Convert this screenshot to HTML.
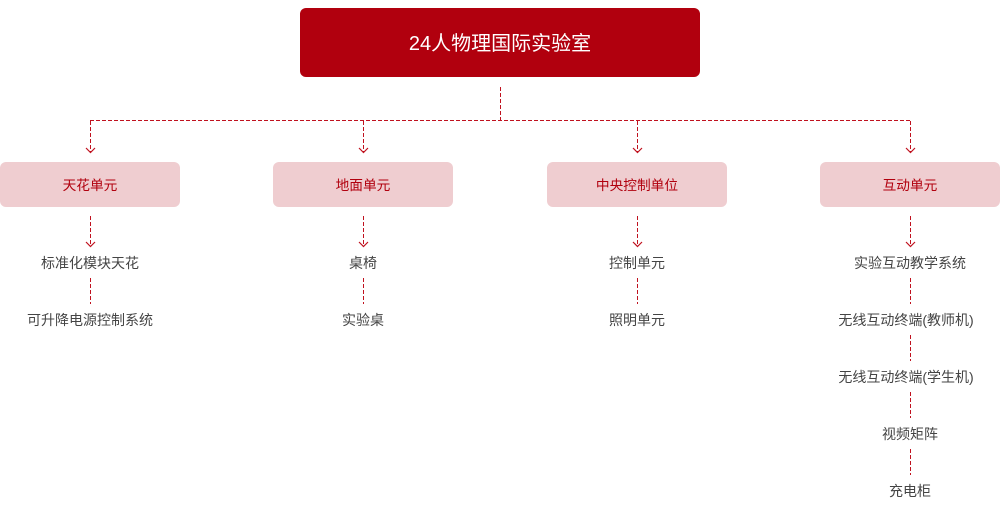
<!DOCTYPE html>
<html><head><meta charset="utf-8"><style>body{margin:0;background:#fff}svg{display:block}text{font-family:"Liberation Sans","Noto Sans CJK SC",sans-serif}</style></head><body>
<svg width="1000" height="510" viewBox="0 0 1000 510">
<rect x="300" y="8" width="400" height="69" rx="6" fill="#b1000e"/>
<text x="500" y="50" font-size="20" fill="#fff" text-anchor="middle">24人物理国际实验室</text>
<g stroke="#c0121f" stroke-width="1" stroke-dasharray="4,2" fill="none">
<path d="M500.5 87V120.5M90 120.5H910.5"/>
<path d="M90.5 121V152M363.5 121V152M637.5 121V152M910.5 121V152"/>
<path d="M90.5 216V246M363.5 216V246M637.5 216V246M910.5 216V246"/>
<path d="M90.5 278V304M363.5 278V304M637.5 278V304M910.5 278V304M910.5 335V361M910.5 392V418M910.5 449V475"/>
</g>
<g stroke="#c0121f" stroke-width="1.2" fill="none">
<path d="M86 148l4.5 4.5 4.5-4.5M359 148l4.5 4.5 4.5-4.5M633 148l4.5 4.5 4.5-4.5M906 148l4.5 4.5 4.5-4.5"/>
<path d="M86 242l4.5 4.5 4.5-4.5M359 242l4.5 4.5 4.5-4.5M633 242l4.5 4.5 4.5-4.5M906 242l4.5 4.5 4.5-4.5"/>
</g>
<g fill="#efcdd0">
<rect x="0" y="162" width="180" height="45" rx="6"/>
<rect x="273" y="162" width="180" height="45" rx="6"/>
<rect x="547" y="162" width="180" height="45" rx="6"/>
<rect x="820" y="162" width="180" height="45" rx="6"/>
</g>
<g font-size="13.7" fill="#b1000e" text-anchor="middle">
<text x="90" y="190">天花单元</text><text x="363" y="190">地面单元</text><text x="637" y="190">中央控制单位</text><text x="910" y="190">互动单元</text>
</g>
<g font-size="14" fill="#444" text-anchor="middle">
<text x="90" y="268">标准化模块天花</text><text x="90" y="325">可升降电源控制系统</text>
<text x="363" y="268">桌椅</text><text x="363" y="325">实验桌</text>
<text x="637" y="268">控制单元</text><text x="637" y="325">照明单元</text>
<text x="910" y="268">实验互动教学系统</text><text x="906" y="325">无线互动终端(教师机)</text>
<text x="906" y="382">无线互动终端(学生机)</text><text x="910" y="439">视频矩阵</text><text x="910" y="496">充电柜</text>
</g>
</svg>
</body></html>
